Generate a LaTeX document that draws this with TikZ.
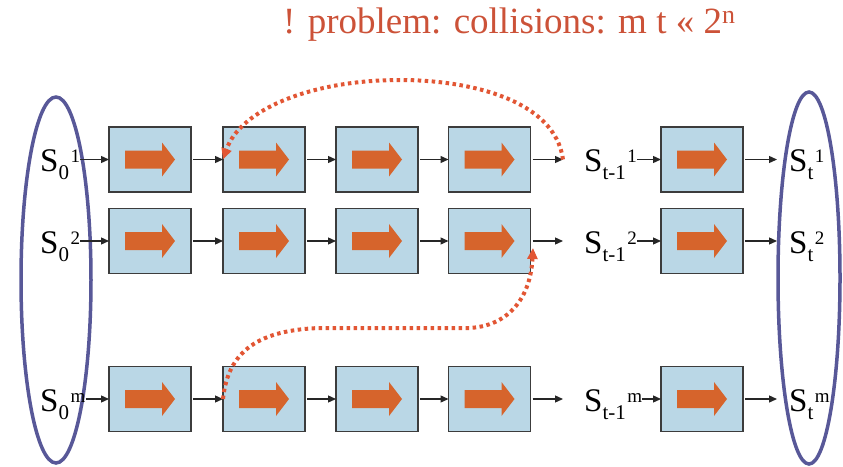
\documentclass[tikz,border=0pt]{standalone}
\usepackage{fontspec}
\setmainfont{Liberation Serif}
\usetikzlibrary{arrows.meta,calc}
\definecolor{boxfill}{RGB}{186,215,230}
\definecolor{boxdraw}{RGB}{60,60,60}
\definecolor{orng}{RGB}{214,100,44}
\definecolor{dotred}{RGB}{226,86,52}
\definecolor{ellblue}{RGB}{88,88,152}
\definecolor{titlered}{RGB}{204,82,56}
\newcommand\slbl[2]{S\raisebox{-8pt}{\fontsize{21}{21}\selectfont #1}\kern1.5pt\raisebox{9pt}{\fontsize{19}{19}\selectfont #2}}
\tikzset{
  blk/.style={draw=boxdraw, fill=boxfill, line width=1.3pt, minimum width=82pt, minimum height=65pt, inner sep=0pt, outer sep=0pt},
  lbl/.style={inner sep=0pt, anchor=base west, font=\fontsize{33}{33}\selectfont},
  arr/.style={line width=1.3pt, draw=black!85, -{Triangle[length=8pt,width=7pt]}},
  dots/.style={draw=dotred, line width=4pt, dash pattern=on 3.5pt off 3.5pt, -{Triangle[length=11pt,width=10pt]}},
  ell/.style={draw=ellblue, line width=3.5pt},
  barrow/.pic={\fill[orng] (-25,-9) -- (12,-9) -- (12,-17) -- (25,0) -- (12,17) -- (12,9) -- (-25,9) -- cycle;}
}
\begin{document}
\begin{tikzpicture}[x=1pt,y=-1pt]
\useasboundingbox (0,0) rectangle (843,466);
% title
\node[anchor=base west, inner sep=0pt, text=titlered, font=\fontsize{37}{37}\selectfont] (title) at (283,33) {! problem: collisions: m t « 2\textsuperscript{n}};
% ellipses
\draw[ell] (56,280) ellipse [x radius=35, y radius=183];
\draw[ell] (809,278) ellipse [x radius=31, y radius=186];
% boxes
\foreach \r/\y in {1/159.5,2/241,3/399}{
  \foreach \c/\x in {1/150,2/264,3/377,4/489.5,5/702}{
    \node[blk] (b\r\c) at (\x,\y) {};
    \pic at (\x,\y) {barrow};
  }
  \coordinate (e\r) at (563,\y);
}
% arrows between boxes
\foreach \r in {1,2,3}{
  \foreach \c/\n in {1/2,2/3,3/4}{
    \draw[arr, shorten <=2pt] (b\r\c.east) -- (b\r\n.west);
  }
  \draw[arr, shorten <=2pt] (b\r4.east) -- (e\r);
}
% labels
\foreach \r/\y/\s in {1/159.5/1,2/241/2,3/399/m}{
  \node[lbl] (sz\r) at (40,\y+12) {\slbl{0}{\s}};
  \node[lbl] (sm\r) at (584,\y+12) {\slbl{t-1}{\s}};
  \node[lbl] (st\r) at (789,\y+12) {\slbl{t}{\s}};
  \draw[arr] (sz\r.east |- b\r1.west) -- (b\r1.west);
  \draw[arr] (sm\r.east |- b\r5.west) -- (b\r5.west);
  \draw[arr, shorten <=2pt, shorten >=12pt] (b\r5.east) -- (st\r.west |- b\r5.east);
}
% dotted curves
\coordinate (t2) at (533,248);
\draw[dots] (e1) .. controls (555,100) and (470,80) .. (400,80) .. controls (310,80) and (240,110) .. (b12.west);
\draw[dots] (b32.west) .. controls (228,350) and (260,330) .. (320,328) -- (470,328) .. controls (515,325) and (531,290) .. (t2);
\end{tikzpicture}
\end{document}
